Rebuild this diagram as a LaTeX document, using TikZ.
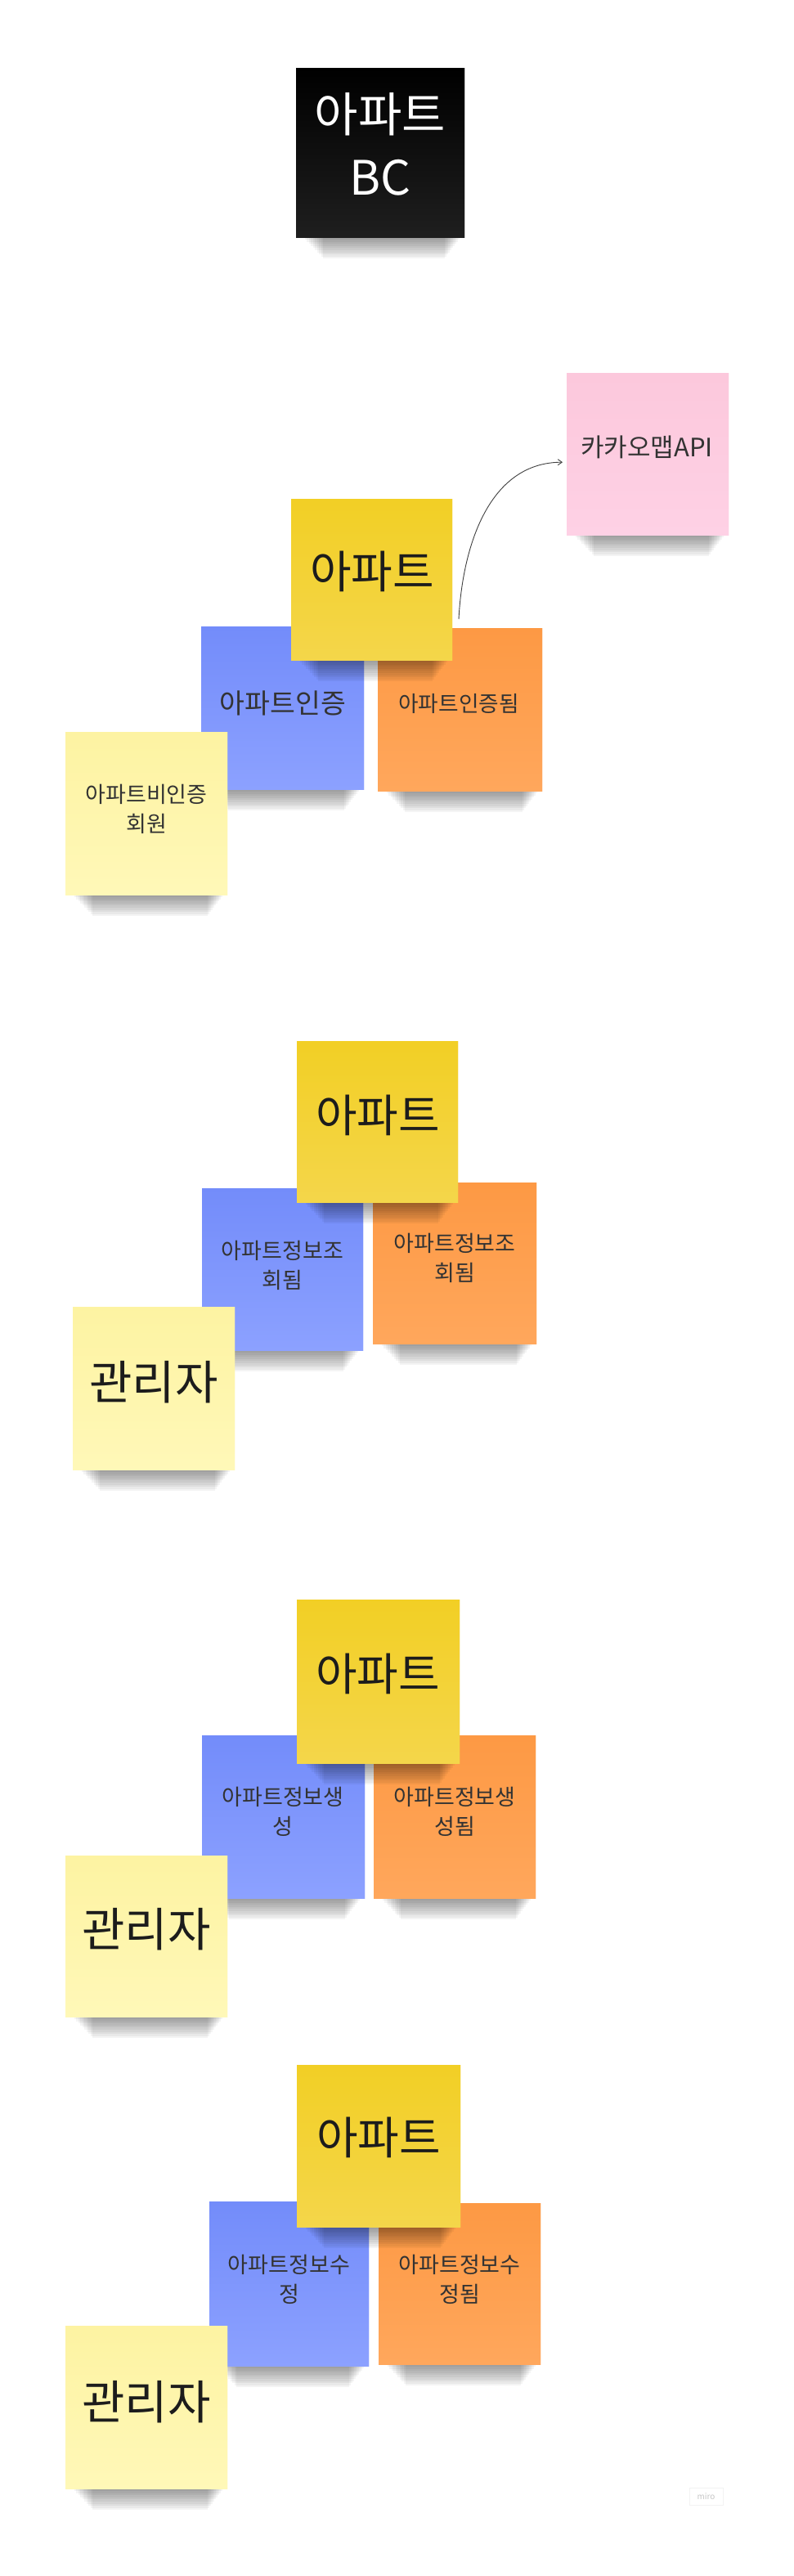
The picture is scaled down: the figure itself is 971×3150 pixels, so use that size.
\documentclass[tikz,border=0pt]{standalone}
\usepackage{fontspec}
\setmainfont{Noto Sans CJK KR}
\usetikzlibrary{arrows.meta}
\definecolor{ylA}{HTML}{F2CF25}
\definecolor{ylB}{HTML}{F4D64A}
\definecolor{blA}{HTML}{738CFA}
\definecolor{blB}{HTML}{8CA1FF}
\definecolor{orA}{HTML}{FD9944}
\definecolor{orB}{HTML}{FFA75C}
\definecolor{lyA}{HTML}{FDF3A2}
\definecolor{lyB}{HTML}{FFF8B8}
\definecolor{pkA}{HTML}{FCC8DC}
\definecolor{pkB}{HTML}{FED1E5}
\definecolor{txt}{HTML}{333333}
\definecolor{txtbig}{HTML}{1C1C1C}
\newcommand\stickyshadow[1]{%
  \foreach \i in {1,...,10}{%
    \fill[black, opacity=0.045] ([xshift={8pt+2.5pt*\i}, yshift=2pt]#1.south west) rectangle ([xshift={-4pt-2pt*\i}, yshift={-2.6pt*\i}]#1.south east);
  }}
\tikzset{
  note/.style={inner sep=0pt, anchor=north west, draw=none},
  darkyellow/.style={note, shade, top color=ylA, bottom color=ylB},
  bluenote/.style={note, shade, top color=blA, bottom color=blB},
  orangenote/.style={note, shade, top color=orA, bottom color=orB},
  lightyellow/.style={note, shade, top color=lyA, bottom color=lyB},
  pinknote/.style={note, shade, top color=pkA, bottom color=pkB},
  blacknote/.style={note, shade, top color=black, bottom color=black!88},
  bigtext/.style={inner sep=0pt, text=txtbig, font=\fontsize{55}{60}\selectfont},
  mgrtext/.style={inner sep=0pt, text=txtbig, font=\fontsize{57}{60}\selectfont},
  smalltext/.style={inner sep=0pt, text=txt, align=center, font=\fontsize{27}{36}\selectfont},
  flowarrow/.style={-{Straight Barb[length=5pt,width=7pt]}, draw=black!75, line width=0.9pt},
}
\begin{document}
\begin{tikzpicture}[x=1pt,y=-1pt]
\fill[white] (0,0) rectangle (971,3150);
\useasboundingbox (0,0) rectangle (971,3150);

% ---- BC title
\node[blacknote, minimum width=206pt, minimum height=207pt] (bc) at (362,83) {};
\stickyshadow{bc}
\node[blacknote, minimum width=206pt, minimum height=207pt] at (362,83) {};
\node[inner sep=0pt, text=white, align=center, font=\fontsize{58}{77}\selectfont] (tbc) at (465,176.5) {아파트\\BC};

% ---- Section 1
\node[pinknote, minimum width=198pt, minimum height=198pt] (pink) at (693,456) {};
\stickyshadow{pink}
\node[pinknote, minimum width=198pt, minimum height=198pt] (pinkb) at (693,456) {};
\node[inner sep=0pt, text=txt, font=\fontsize{31}{36}\selectfont] (tpink) at (791,547) {카카오맵API};

\node[bluenote, minimum width=199pt, minimum height=199pt] (b1) at (246,766) {};
\stickyshadow{b1}
\node[bluenote, minimum width=199pt, minimum height=199pt] at (246,766) {};
\node[inner sep=0pt, text=txt, font=\fontsize{33.5}{36}\selectfont] (tb1) at (346,860) {아파트인증};

\node[orangenote, minimum width=201pt, minimum height=199pt] (o1) at (462,768) {};
\stickyshadow{o1}
\node[orangenote, minimum width=201pt, minimum height=199pt] at (462,768) {};
\node[inner sep=0pt, text=txt, font=\fontsize{26.7}{36}\selectfont] (to1) at (561,860) {아파트인증됨};

\node[darkyellow, minimum width=197pt, minimum height=197pt] (y1) at (356,610) {};
\stickyshadow{y1}
\node[darkyellow, minimum width=197pt, minimum height=197pt] at (356,610) {};
\node[bigtext] (ty1) at (455,699) {아파트};

\node[lightyellow, minimum width=198pt, minimum height=199pt] (l1) at (80,895) {};
\stickyshadow{l1}
\node[lightyellow, minimum width=198pt, minimum height=199pt] at (80,895) {};
\node[smalltext] (tl1) at (179,989) {아파트비인증\\회원};

\coordinate (a1) at (561,757);
\draw[flowarrow] (a1) to[out=87,in=180] ([xshift=-5pt,yshift=-10pt]pink.west);

% ---- Section 2
\node[bluenote, minimum width=197pt, minimum height=198pt] (b2) at (247,1453) {};
\stickyshadow{b2}
\node[bluenote, minimum width=197pt, minimum height=198pt] at (247,1453) {};
\node[smalltext] (tb2) at (345.5,1547.5) {아파트정보조\\회됨};

\node[orangenote, minimum width=200pt, minimum height=197pt] (o2) at (456,1446) {};
\stickyshadow{o2}
\node[orangenote, minimum width=200pt, minimum height=197pt] at (456,1446) {};
\node[smalltext] (to2) at (556,1538.5) {아파트정보조\\회됨};

\node[darkyellow, minimum width=197pt, minimum height=197pt] (y2) at (363,1273) {};
\stickyshadow{y2}
\node[darkyellow, minimum width=197pt, minimum height=197pt] at (363,1273) {};
\node[bigtext] (ty2) at (462,1364) {아파트};

\node[lightyellow, minimum width=198pt, minimum height=199pt] (l2) at (89,1598) {};
\stickyshadow{l2}
\node[lightyellow, minimum width=198pt, minimum height=199pt] at (89,1598) {};
\node[mgrtext] (tl2) at (188,1690) {관리자};

% ---- Section 3
\node[bluenote, minimum width=199pt, minimum height=199pt] (b3) at (247,2122) {};
\stickyshadow{b3}
\node[bluenote, minimum width=199pt, minimum height=199pt] at (247,2122) {};
\node[smalltext] (tb3) at (346,2215.5) {아파트정보생\\성};

\node[orangenote, minimum width=198pt, minimum height=199pt] (o3) at (457,2122) {};
\stickyshadow{o3}
\node[orangenote, minimum width=198pt, minimum height=199pt] at (457,2122) {};
\node[smalltext] (to3) at (556,2215.5) {아파트정보생\\성됨};

\node[darkyellow, minimum width=199pt, minimum height=200pt] (y3) at (363,1956) {};
\stickyshadow{y3}
\node[darkyellow, minimum width=199pt, minimum height=200pt] at (363,1956) {};
\node[bigtext] (ty3) at (462,2047) {아파트};

\node[lightyellow, minimum width=198pt, minimum height=197pt] (l3) at (80,2269) {};
\stickyshadow{l3}
\node[lightyellow, minimum width=198pt, minimum height=197pt] at (80,2269) {};
\node[mgrtext] (tl3) at (179,2359) {관리자};

% ---- Section 4
\node[bluenote, minimum width=195pt, minimum height=201pt] (b4) at (256,2692) {};
\stickyshadow{b4}
\node[bluenote, minimum width=195pt, minimum height=201pt] at (256,2692) {};
\node[smalltext] (tb4) at (353.5,2787) {아파트정보수\\정};

\node[orangenote, minimum width=198pt, minimum height=197pt] (o4) at (463,2694) {};
\stickyshadow{o4}
\node[orangenote, minimum width=198pt, minimum height=197pt] at (463,2694) {};
\node[smalltext] (to4) at (562,2787) {아파트정보수\\정됨};

\node[darkyellow, minimum width=200pt, minimum height=198pt] (y4) at (363,2525) {};
\stickyshadow{y4}
\node[darkyellow, minimum width=200pt, minimum height=198pt] at (363,2525) {};
\node[bigtext] (ty4) at (463,2614) {아파트};

\node[lightyellow, minimum width=198pt, minimum height=199pt] (l4) at (80,2844) {};
\stickyshadow{l4}
\node[lightyellow, minimum width=198pt, minimum height=199pt] at (80,2844) {};
\node[mgrtext] (tl4) at (179,2937) {관리자};

% ---- watermark
\node[draw=black!5, line width=0.5pt, inner sep=0pt, minimum width=41pt, minimum height=21pt, text=black!22, font=\fontsize{10}{12}\selectfont] (miro) at (863.5,3052.5) {miro};
\end{tikzpicture}
\end{document}
